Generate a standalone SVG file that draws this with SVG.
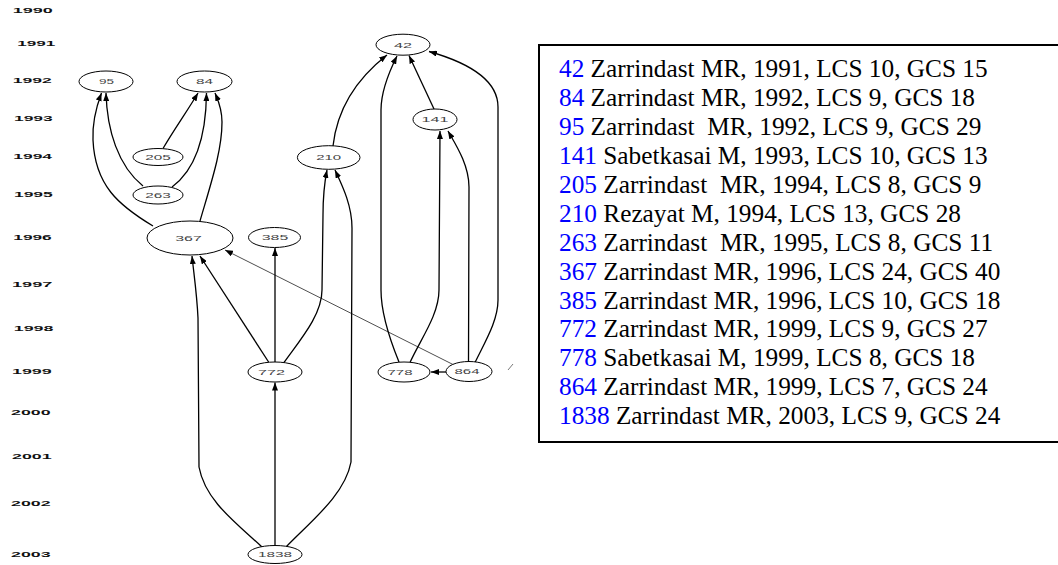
<svg xmlns="http://www.w3.org/2000/svg" width="1058" height="565" viewBox="0 0 1058 565">
<style>
.yr{font-family:"Liberation Sans",Arial,sans-serif;font-weight:bold;font-size:7.5px;fill:#111}
.nd ellipse{fill:#fff;stroke:#000;stroke-width:1}
.nd text{font-family:"Liberation Sans",Arial,sans-serif;font-size:8px;fill:#444;text-anchor:middle}
.edge{fill:none;stroke:#000;stroke-width:1.3;marker-end:url(#ah)}
.thin{fill:none;stroke:#000;stroke-width:0.7;marker-end:url(#ah)}
.lg{font-family:"Liberation Serif","Times New Roman",serif;font-size:25.3px;fill:#000;white-space:pre}
.num{fill:#0000ff}
</style>
<defs>
<marker id="ah" markerUnits="userSpaceOnUse" markerWidth="8" markerHeight="6" refX="8" refY="3" orient="auto">
<path d="M0,0 L8,3 L0,6 z" fill="#000"/>
</marker>
</defs>
<rect width="1058" height="565" fill="#fff"/>
<g id="years">
<text class="yr" x="12.7" y="13.4" textLength="40" lengthAdjust="spacingAndGlyphs">1990</text>
<text class="yr" x="17.3" y="46.4" textLength="38" lengthAdjust="spacingAndGlyphs">1991</text>
<text class="yr" x="12.7" y="83" textLength="39" lengthAdjust="spacingAndGlyphs">1992</text>
<text class="yr" x="14" y="121.4" textLength="38.7" lengthAdjust="spacingAndGlyphs">1993</text>
<text class="yr" x="13.3" y="159.4" textLength="38.7" lengthAdjust="spacingAndGlyphs">1994</text>
<text class="yr" x="14" y="197" textLength="38.7" lengthAdjust="spacingAndGlyphs">1995</text>
<text class="yr" x="13.3" y="240" textLength="38.4" lengthAdjust="spacingAndGlyphs">1996</text>
<text class="yr" x="12" y="286.7" textLength="40.3" lengthAdjust="spacingAndGlyphs">1997</text>
<text class="yr" x="13.8" y="331.4" textLength="39.6" lengthAdjust="spacingAndGlyphs">1998</text>
<text class="yr" x="12" y="373.7" textLength="39.7" lengthAdjust="spacingAndGlyphs">1999</text>
<text class="yr" x="11" y="415.4" textLength="39.6" lengthAdjust="spacingAndGlyphs">2000</text>
<text class="yr" x="12" y="458.7" textLength="39.7" lengthAdjust="spacingAndGlyphs">2001</text>
<text class="yr" x="11" y="506" textLength="39.6" lengthAdjust="spacingAndGlyphs">2002</text>
<text class="yr" x="11" y="557" textLength="39.6" lengthAdjust="spacingAndGlyphs">2003</text>
</g>
<g id="connectors">
<path id="e367-95" class="edge" d="M153,226 C118,205 95,185 93,140 C92,120 97,105 101.5,93"/>
<path id="e263-95" class="edge" d="M143,186 C118,166 107,130 106,93"/>
<path id="e205-84" class="edge" d="M163,148.5 C175,128 188,110 198,93"/>
<path id="e263-84" class="edge" d="M172,187 C195,170 206,140 206.5,93"/>
<path id="e367-84" class="edge" d="M200,221 C212,180 222,150 222,122 C222,108 218,100 215,93"/>
<path id="e210-42" class="edge" d="M333,146 C337,110 355,80 387,55"/>
<path id="e778-42" class="edge" d="M399,362 C390,340 381,312 381,290 L381,110 C381,90 390,70 397,56"/>
<path id="e141-42" class="edge" d="M434,109 L409,55.5"/>
<path id="e864-42" class="edge" d="M475,362.5 C486,340 498,320 498,300 L498,107 C498,85 480,66 429,51.5"/>
<path id="e778-141" class="edge" d="M410,362.5 C420,340 439,315 439,290 L440,131"/>
<path id="e864-141" class="edge" d="M468.5,361.5 L469,187 C469,165 456,145 448,131"/>
<path id="e864-367" class="thin" d="M454,365 L225,250"/>
<path id="e864-778" class="edge" d="M446,372 L431,372"/>
<path id="e772-367" class="edge" d="M268.6,362 L200,256"/>
<path id="e772-385" class="edge" d="M275,362 L275,248"/>
<path id="e772-210" class="edge" d="M284,362.5 C300,340 322,315 322,290 L323,215 C323,195 325,180 327,170"/>
<path id="e1838-210" class="edge" d="M286,547 C310,522 345,495 351,462 L352,228 C352,205 342,185 335,170"/>
<path id="e1838-367" class="edge" d="M262,547 C235,522 205,500 199,467 L198,318 C197,295 194,275 192,256"/>
<path id="e1838-772" class="edge" d="M275,545.5 L275,382.5"/>
</g>
<g id="n42" class="nd"><ellipse cx="403" cy="44.7" rx="27" ry="10.5"/><text x="403" y="47.5" textLength="18" lengthAdjust="spacingAndGlyphs">42</text></g>
<g id="n84" class="nd"><ellipse cx="204.5" cy="81.5" rx="27.5" ry="10.5"/><text x="204.5" y="84.3" textLength="17" lengthAdjust="spacingAndGlyphs">84</text></g>
<g id="n95" class="nd"><ellipse cx="106" cy="81.5" rx="27" ry="10.5"/><text x="106.5" y="84.3" textLength="15" lengthAdjust="spacingAndGlyphs">95</text></g>
<g id="n141" class="nd"><ellipse cx="435" cy="119.5" rx="22" ry="10.5"/><text x="435" y="122.3" textLength="27" lengthAdjust="spacingAndGlyphs">141</text></g>
<g id="n205" class="nd"><ellipse cx="158" cy="157" rx="25" ry="8.5"/><text x="158" y="159.8" textLength="25.5" lengthAdjust="spacingAndGlyphs">205</text></g>
<g id="n210" class="nd"><ellipse cx="328.7" cy="157.5" rx="31.3" ry="11.8"/><text x="328.7" y="160.3" textLength="25" lengthAdjust="spacingAndGlyphs">210</text></g>
<g id="n263" class="nd"><ellipse cx="158" cy="195" rx="25" ry="9"/><text x="158" y="197.8" textLength="25.5" lengthAdjust="spacingAndGlyphs">263</text></g>
<g id="n367" class="nd"><ellipse cx="190" cy="238" rx="43" ry="17"/><text x="188.5" y="240.8" textLength="26.5" lengthAdjust="spacingAndGlyphs">367</text></g>
<g id="n385" class="nd"><ellipse cx="274.5" cy="237.5" rx="26" ry="10"/><text x="275" y="240.3" textLength="26.5" lengthAdjust="spacingAndGlyphs">385</text></g>
<g id="n772" class="nd"><ellipse cx="275" cy="372" rx="27" ry="10"/><text x="271.5" y="374.8" textLength="27" lengthAdjust="spacingAndGlyphs">772</text></g>
<g id="n778" class="nd"><ellipse cx="404" cy="372" rx="26" ry="10"/><text x="400" y="374.8" textLength="25" lengthAdjust="spacingAndGlyphs">778</text></g>
<g id="n864" class="nd"><ellipse cx="469" cy="371.5" rx="23" ry="10"/><text x="467" y="374.3" textLength="25" lengthAdjust="spacingAndGlyphs">864</text></g>
<g id="n1838" class="nd"><ellipse cx="275" cy="554.5" rx="27" ry="9"/><text x="275" y="557.3" textLength="34" lengthAdjust="spacingAndGlyphs">1838</text></g>
<line x1="508" y1="370" x2="513" y2="364" stroke="#555" stroke-width="0.8"/>
<g id="legend">
<rect x="539" y="45" width="530" height="397" fill="none" stroke="#000" stroke-width="2"/>
<text class="lg" x="559" y="77.3"><tspan class="num">42</tspan> Zarrindast MR, 1991, LCS 10, GCS 15</text>
<text class="lg" x="559" y="106.2"><tspan class="num">84</tspan> Zarrindast MR, 1992, LCS 9, GCS 18</text>
<text class="lg" x="559" y="135.1"><tspan class="num">95</tspan> Zarrindast  MR, 1992, LCS 9, GCS 29</text>
<text class="lg" x="559" y="164"><tspan class="num">141</tspan> Sabetkasai M, 1993, LCS 10, GCS 13</text>
<text class="lg" x="559" y="192.9"><tspan class="num">205</tspan> Zarrindast  MR, 1994, LCS 8, GCS 9</text>
<text class="lg" x="559" y="221.8"><tspan class="num">210</tspan> Rezayat M, 1994, LCS 13, GCS 28</text>
<text class="lg" x="559" y="250.7"><tspan class="num">263</tspan> Zarrindast  MR, 1995, LCS 8, GCS 11</text>
<text class="lg" x="559" y="279.6"><tspan class="num">367</tspan> Zarrindast MR, 1996, LCS 24, GCS 40</text>
<text class="lg" x="559" y="308.5"><tspan class="num">385</tspan> Zarrindast MR, 1996, LCS 10, GCS 18</text>
<text class="lg" x="559" y="337.4"><tspan class="num">772</tspan> Zarrindast MR, 1999, LCS 9, GCS 27</text>
<text class="lg" x="559" y="366.3"><tspan class="num">778</tspan> Sabetkasai M, 1999, LCS 8, GCS 18</text>
<text class="lg" x="559" y="395.2"><tspan class="num">864</tspan> Zarrindast MR, 1999, LCS 7, GCS 24</text>
<text class="lg" x="559" y="424.1"><tspan class="num">1838</tspan> Zarrindast MR, 2003, LCS 9, GCS 24</text>
</g>
</svg>
